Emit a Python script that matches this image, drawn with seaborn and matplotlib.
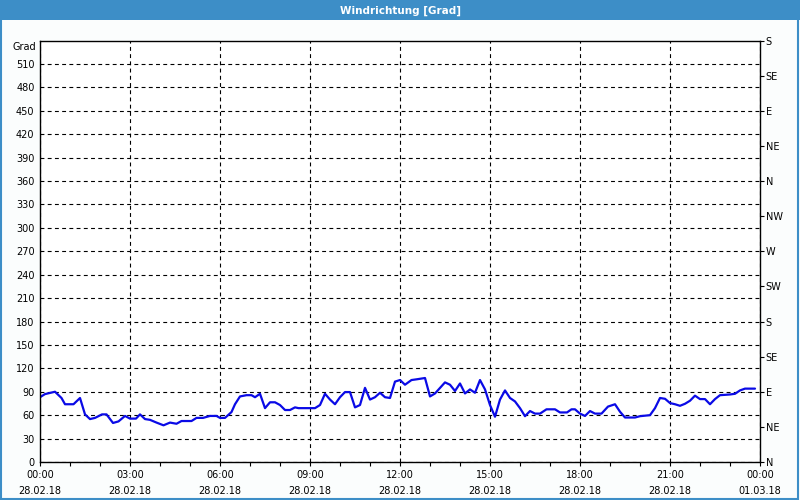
import matplotlib
matplotlib.use("Agg")
import matplotlib.pyplot as plt
import seaborn as sns
import pandas as pd
from matplotlib.patches import Rectangle

# ---- data ----
times = ["00:00","00:10","00:30","00:43","00:50","01:07","01:20","01:30","01:40","01:50",
         "02:04","02:13","02:26","02:37","02:50","03:00","03:12","03:20","03:30","03:40",
         "03:53","04:07","04:20","04:33","04:43","05:03","05:13","05:26","05:40","05:53",
         "06:00","06:10","06:23","06:30","06:40","06:53","07:03","07:10","07:20","07:30",
         "07:40","07:50","08:00","08:10","08:20","08:30","08:37","09:10","09:20","09:30",
         "09:40","09:50","10:00","10:10","10:20","10:30","10:40","10:50","11:00","11:10",
         "11:20","11:30","11:40","11:50","12:00","12:10","12:23","12:34","12:50","13:00",
         "13:10","13:30","13:40","13:50","14:00","14:10","14:20","14:30","14:40","14:50",
         "15:00","15:10","15:20","15:30","15:40","15:50","16:00","16:10","16:20","16:30",
         "16:40","16:53","17:10","17:20","17:34","17:43","17:50","18:00","18:10","18:20",
         "18:30","18:43","18:56","19:10","19:20","19:30","19:50","20:00","20:20","20:30",
         "20:40","20:50","21:00","21:10","21:20","21:30","21:40","21:50","22:00","22:10",
         "22:20","22:30","22:40","23:00","23:10","23:20","23:30","23:50"]
values = [83, 87, 90, 82, 74, 74, 82, 61, 55, 56.5,
          61, 61, 50, 52, 59, 55.6, 55.6, 61, 55, 54,
          50.5, 47, 50.5, 49, 52.5, 52.5, 56.5, 56.5, 59, 59,
          56.5, 56.5, 64, 74, 84, 85.6, 85.6, 83, 87.4, 69,
          76.5, 76.5, 73, 66.6, 66.6, 70, 69, 69, 73, 87.4,
          80, 74, 83, 89.6, 89.6, 70, 73, 95, 80, 83,
          88.7, 83, 82, 103, 105, 99, 105, 106, 107.6, 84,
          87.8, 102, 99, 91, 100.6, 87.8, 93, 88.7, 105, 93,
          73, 58, 80, 91.7, 82, 77.6, 69, 58.7, 65.3, 62,
          62, 67.5, 67.5, 63.5, 63.5, 67.5, 67.5, 62, 59, 65.3,
          62, 62, 71, 74, 64.4, 57, 57, 58.7, 60, 69,
          82, 81, 75.5, 74, 72, 74.6, 78.5, 85, 80.6, 80.6,
          74, 80.6, 85.6, 86.5, 87.4, 91.7, 94, 94]

x_tick_labels = ["00:00\n28.02.18", "03:00\n28.02.18", "06:00\n28.02.18", "09:00\n28.02.18",
                 "12:00\n28.02.18", "15:00\n28.02.18", "18:00\n28.02.18", "21:00\n28.02.18",
                 "00:00\n01.03.18"]
y_left_ticks = list(range(0, 511, 30))
compass_labels = ["N", "NE", "E", "SE", "S", "SW", "W", "NW", "N", "NE", "E", "SE", "S"]
compass_values = list(range(0, 541, 45))

title = "Windrichtung [Grad]"
unit = "Grad"

# ---- build frame ----
hours = [int(t[:2]) + int(t[3:]) / 60 for t in times]
df = pd.DataFrame({"hour": hours, "deg": values})

sns.set_theme(style="white")
plt.rcParams["font.family"] = ["DejaVu Sans"]
plt.rcParams["text.color"] = "black"
plt.rcParams["xtick.color"] = "black"
plt.rcParams["ytick.color"] = "black"
plt.rcParams["xtick.labelcolor"] = "black"
plt.rcParams["ytick.labelcolor"] = "black"

BLUE = "#3d8ec7"
fig = plt.figure(figsize=(8, 5), dpi=100, facecolor="#fbfdfd")

# title bar and window frame
fig.patches.append(Rectangle((0, 1 - 20 / 500), 1, 20 / 500, transform=fig.transFigure,
                             facecolor=BLUE, edgecolor="none", zorder=0))
fig.patches.append(Rectangle((0.001, 0.002), 0.997, 0.996, transform=fig.transFigure,
                             facecolor="none", edgecolor=BLUE, linewidth=1.5, zorder=0))
fig.text(0.5, 1 - 11 / 500, title, color="white", fontsize=7.5, fontweight="bold",
         ha="center", va="center")

ax = fig.add_axes([40 / 800, 1 - 462 / 500, 720 / 800, 421.5 / 500])
ax.set_facecolor("white")
sns.lineplot(data=df, x="hour", y="deg", ax=ax, color="#0a0ae6", linewidth=1.6)

ax.set_xlim(0, 24)
ax.set_ylim(0, 540)
ax.set_xlabel("")
ax.set_ylabel("")

ax.set_xticks(range(0, 25, 3))
ax.set_xticklabels(x_tick_labels, fontsize=7, linespacing=1.8)
ax.set_xticks(range(0, 25), minor=True)
ax.set_yticks(y_left_ticks)
ax.set_yticklabels([str(v) for v in y_left_ticks], fontsize=7)

ax.tick_params(axis="x", which="both", direction="out", length=3, width=0.8,
               color="black", bottom=True, pad=2.5)
ax.tick_params(axis="y", which="both", length=0, pad=4, left=True)

ax.grid(True, which="major", axis="both", color="black", linestyle=(0, (3.5, 3)),
        linewidth=0.8)
for s in ax.spines.values():
    s.set_color("black")
    s.set_linewidth(1)
    s.set_visible(True)

ax.text(-0.005, 1.0 - 6 / 421.5, unit, transform=ax.transAxes, fontsize=7,
        ha="right", va="center")

ax2 = ax.twinx()
ax2.set_ylim(0, 540)
ax2.set_yticks(compass_values)
ax2.set_yticklabels(compass_labels, fontsize=7)
ax2.tick_params(axis="y", direction="out", length=3, width=0.8, color="black", pad=1,
                right=True)
ax2.grid(False)
for s in ax2.spines.values():
    s.set_visible(False)

fig.savefig("out.png", dpi=100, facecolor=fig.get_facecolor())
